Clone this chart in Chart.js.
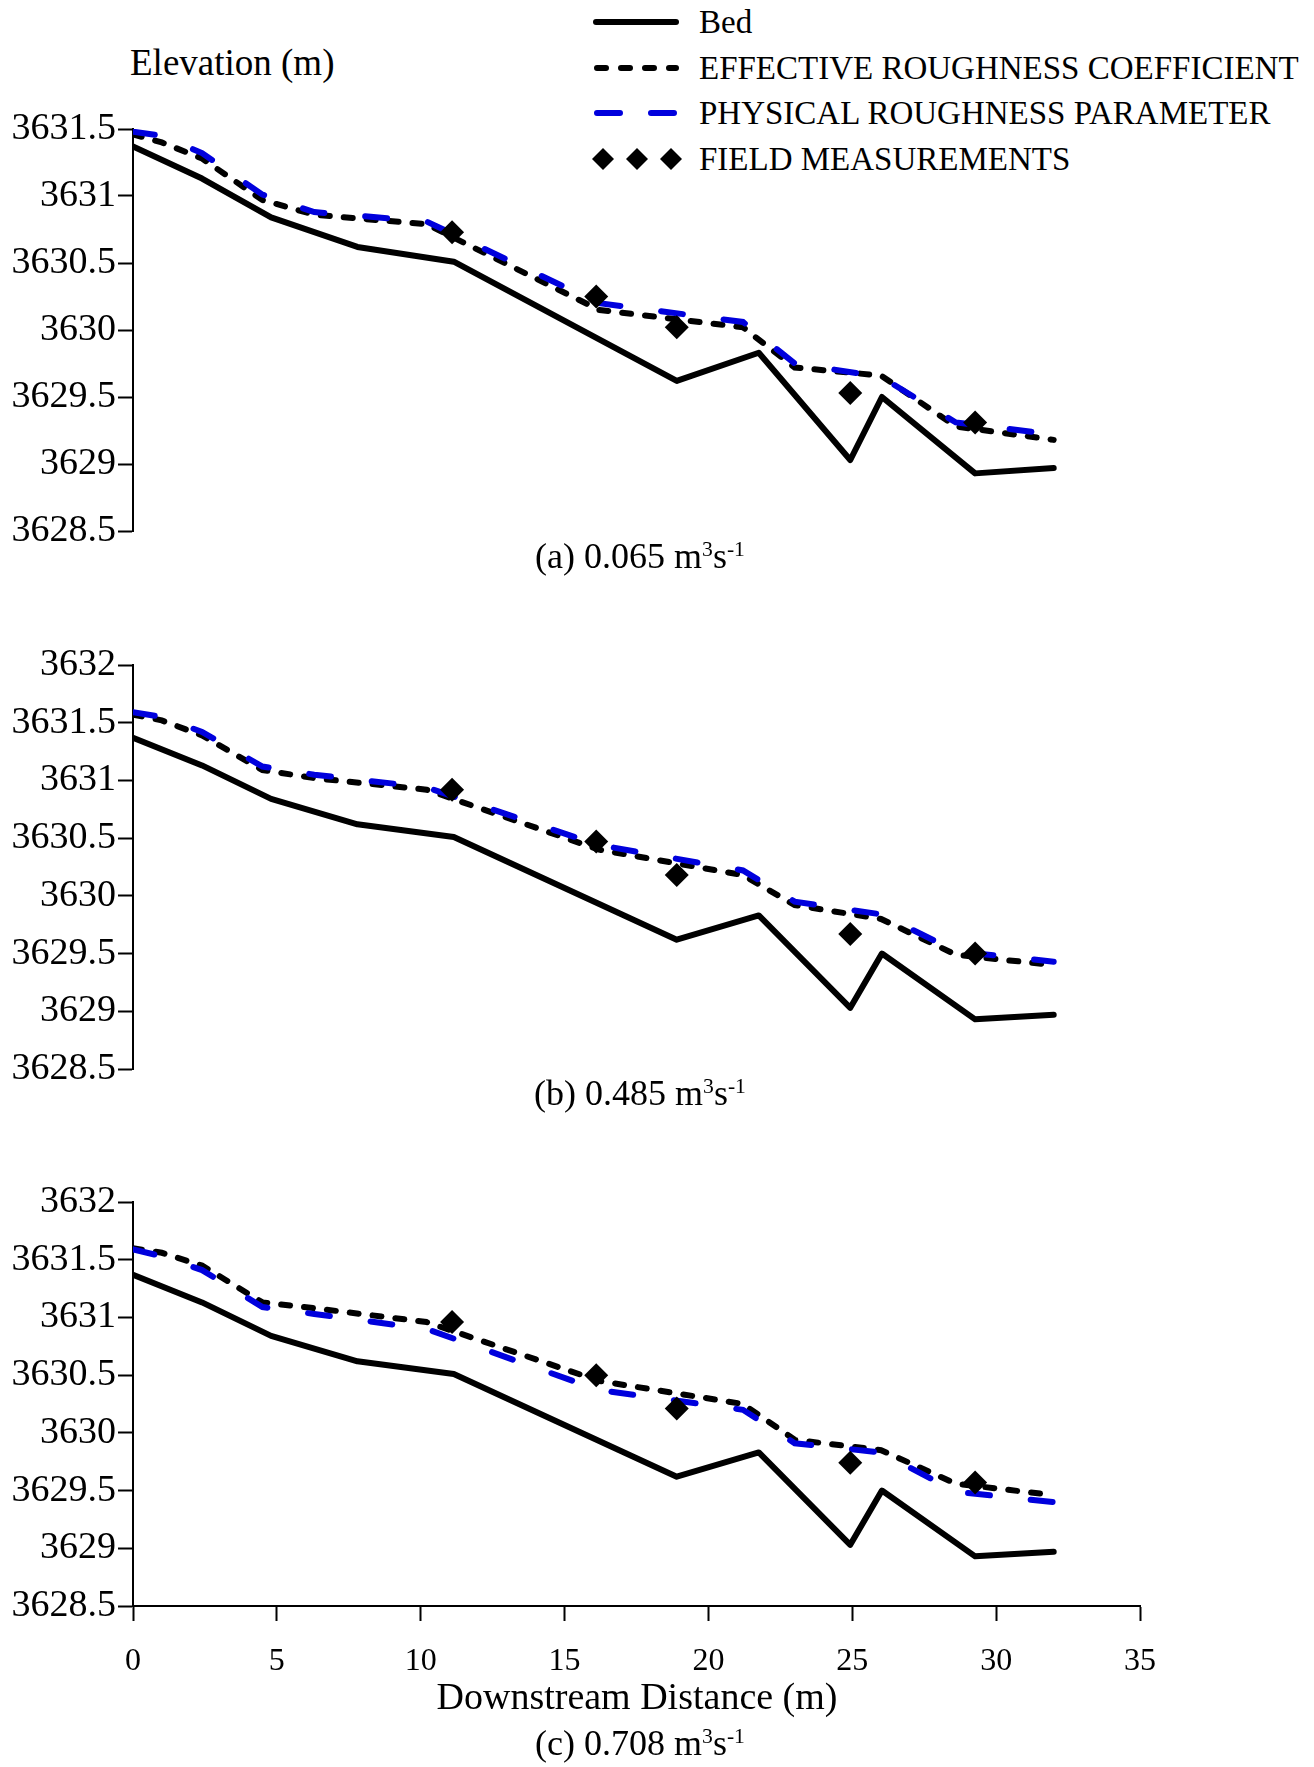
<!DOCTYPE html>
<html>
<head>
<meta charset="utf-8">
<script src="https://cdn.jsdelivr.net/npm/chart.js@4.4.0/dist/chart.umd.min.js"></script>
<style>
  body { margin: 0; background: #fff; width: 1314px; height: 1767px; position: relative; overflow: hidden;
         font-family: "Liberation Serif", "Times New Roman", serif; color: #000; }
  .panel { position: absolute; left: 0; width: 1314px; }
  .txt { position: absolute; white-space: nowrap; line-height: 1; transform: translateY(-50%); }
  .cap { position: absolute; white-space: nowrap; line-height: 1; transform: translate(-50%, -50%); font-size: 36px; }
  sup { font-size: 60%; vertical-align: 0.55em; line-height: 0; }
  #legend .row { position: absolute; left: 590px; height: 40px; transform: translateY(-50%); }
  #legend svg { position: absolute; left: 0; top: 0; }
  #legend span { position: absolute; left: 109px; top: 50%; transform: translateY(-50%); font-size: 33px; line-height: 1; white-space: nowrap; }
</style>
</head>
<body>

<div class="txt" style="left:130px; top:62px; font-size:37px;">Elevation (m)</div>

<div id="legend">
  <div class="row" style="top:22px;">
    <svg width="100" height="40"><line x1="6" y1="20" x2="86" y2="20" stroke="#000" stroke-width="6" stroke-linecap="round"/></svg>
    <span>Bed</span>
  </div>
  <div class="row" style="top:68px;">
    <svg width="100" height="40"><line x1="7" y1="20" x2="86" y2="20" stroke="#000" stroke-width="6" stroke-linecap="round" stroke-dasharray="9 15"/></svg>
    <span>EFFECTIVE ROUGHNESS COEFFICIENT</span>
  </div>
  <div class="row" style="top:113px;">
    <svg width="100" height="40"><line x1="7" y1="20" x2="86" y2="20" stroke="#0000dd" stroke-width="6" stroke-linecap="round" stroke-dasharray="23 31"/></svg>
    <span>PHYSICAL ROUGHNESS PARAMETER</span>
  </div>
  <div class="row" style="top:159px;">
    <svg width="100" height="40">
      <polygon points="13,9 24,20 13,31 2,20" fill="#000"/>
      <polygon points="47,9 58,20 47,31 36,20" fill="#000"/>
      <polygon points="81,9 92,20 81,31 70,20" fill="#000"/>
    </svg>
    <span>FIELD MEASUREMENTS</span>
  </div>
</div>

<div class="panel" style="top:99px; height:462px;"><canvas id="chartA"></canvas></div>
<div class="panel" style="top:635px; height:464px;"><canvas id="chartB"></canvas></div>
<div class="panel" style="top:1172px; height:595px;"><canvas id="chartC"></canvas></div>

<div class="cap" style="left:640px; top:556px;">(a) 0.065 m<sup>3</sup>s<sup>-1</sup></div>
<div class="cap" style="left:640px; top:1093px;">(b) 0.485 m<sup>3</sup>s<sup>-1</sup></div>
<div class="txt" style="left:637px; top:1696px; font-size:38px; transform:translate(-50%,-50%);">Downstream Distance (m)</div>
<div class="cap" style="left:640px; top:1743px;">(c) 0.708 m<sup>3</sup>s<sup>-1</sup></div>

<script>
// bed profile (same in all three panels)
const bedDist = [0, 2.4, 4.8, 7.8, 11.15, 18.9, 21.75, 24.93, 26.03, 29.27, 32];
const bedElev = [3631.37, 3631.13, 3630.84, 3630.62, 3630.51, 3629.62, 3629.83, 3629.03, 3629.50, 3628.93, 3628.97];

// water surface, modelled
const wsDist = [0, 1.0, 2.4, 4.5, 6.3, 10.2, 16.2, 21.2, 23.0, 26.0, 28.6, 32];
const effA  = [3631.46, 3631.40, 3631.28, 3630.97, 3630.86, 3630.79, 3630.15, 3630.02, 3629.72, 3629.66, 3629.28, 3629.18];
const physA = [3631.48, 3631.45, 3631.32, 3631.01, 3630.88, 3630.81, 3630.20, 3630.06, 3629.75, 3629.65, 3629.31, 3629.22];
const effB  = [3631.57, 3631.52, 3631.39, 3631.09, 3631.02, 3630.92, 3630.40, 3630.18, 3629.92, 3629.80, 3629.49, 3629.40];
const physB = [3631.59, 3631.55, 3631.42, 3631.12, 3631.05, 3630.94, 3630.44, 3630.22, 3629.95, 3629.84, 3629.52, 3629.43];
const effC  = [3631.60, 3631.56, 3631.45, 3631.13, 3631.08, 3630.96, 3630.45, 3630.25, 3629.94, 3629.85, 3629.56, 3629.46];
const physC = [3631.59, 3631.53, 3631.41, 3631.09, 3631.03, 3630.90, 3630.37, 3630.20, 3629.91, 3629.83, 3629.49, 3629.40];

// field measurements
const fieldDist = [11.09, 16.1, 18.9, 24.93, 29.27];
const fieldA = [3630.73, 3630.25, 3630.02, 3629.53, 3629.31];
const fieldB = [3630.92, 3630.47, 3630.18, 3629.67, 3629.50];
const fieldC = [3630.96, 3630.50, 3630.21, 3629.74, 3629.57];

// tick labels
const xTicks = [0, 5, 10, 15, 20, 25, 30, 35];
const yTicksA = [3628.5, 3629, 3629.5, 3630, 3630.5, 3631, 3631.5];
const yTicksBC = [3628.5, 3629, 3629.5, 3630, 3630.5, 3631, 3631.5, 3632];

Chart.defaults.font.family = '"Liberation Serif", "Times New Roman", serif';
Chart.defaults.color = '#000';

const pts = (xs, ys) => xs.map((x, i) => ({ x: x, y: ys[i] }));

function makePanel(id, eff, phys, field, yTicks, showX) {
  const xScale = {
    type: 'linear',
    min: 0,
    max: 35,
    display: showX,
    afterBuildTicks: s => { s.ticks = xTicks.map(v => ({ value: v })); },
    grid: { drawOnChartArea: false, drawTicks: true, tickLength: 15, tickColor: '#000', tickWidth: 2 },
    border: { display: true, color: '#000', width: 2 },
    ticks: { font: { size: 32 }, padding: 21, maxRotation: 0, callback: v => String(v) }
  };
  if (showX) xScale.afterFit = s => { s.height = 161; };

  new Chart(document.getElementById(id), {
    type: 'line',
    data: {
      datasets: [
        { label: 'Bed', data: pts(bedDist, bedElev), borderColor: '#000', borderWidth: 6,
          pointRadius: 0, borderJoinStyle: 'round', borderCapStyle: 'round', order: 4 },
        { label: 'EFFECTIVE ROUGHNESS COEFFICIENT', data: pts(wsDist, eff), borderColor: '#000', borderWidth: 6,
          borderDash: [9, 14], borderCapStyle: 'round', pointRadius: 0, order: 3 },
        { label: 'PHYSICAL ROUGHNESS PARAMETER', data: pts(wsDist, phys), borderColor: '#0000dd', borderWidth: 6,
          borderDash: [22, 41], borderCapStyle: 'round', pointRadius: 0, order: 2 },
        { label: 'FIELD MEASUREMENTS', data: pts(fieldDist, field), showLine: false, pointStyle: 'rectRot',
          pointRadius: 12, pointBackgroundColor: '#000', pointBorderColor: '#000', pointBorderWidth: 0, order: 1 }
      ]
    },
    options: {
      animation: false,
      responsive: true,
      maintainAspectRatio: false,
      layout: { padding: { top: 30, bottom: showX ? 0 : 30, left: 0, right: 174 } },
      plugins: { legend: { display: false }, tooltip: { enabled: false } },
      scales: {
        x: xScale,
        y: {
          min: yTicks[0],
          max: yTicks[yTicks.length - 1],
          afterBuildTicks: s => { s.ticks = yTicks.map(v => ({ value: v })); },
          afterFit: s => { s.width = 133; },
          grid: { drawOnChartArea: false, drawTicks: true, tickLength: 15, tickColor: '#000', tickWidth: 2 },
          border: { display: true, color: '#000', width: 2 },
          ticks: { font: { size: 38 }, padding: 2, callback: v => String(v) }
        }
      }
    }
  });
}

makePanel('chartA', effA, physA, fieldA, yTicksA, false);
makePanel('chartB', effB, physB, fieldB, yTicksBC, false);
makePanel('chartC', effC, physC, fieldC, yTicksBC, true);
</script>
</body>
</html>
